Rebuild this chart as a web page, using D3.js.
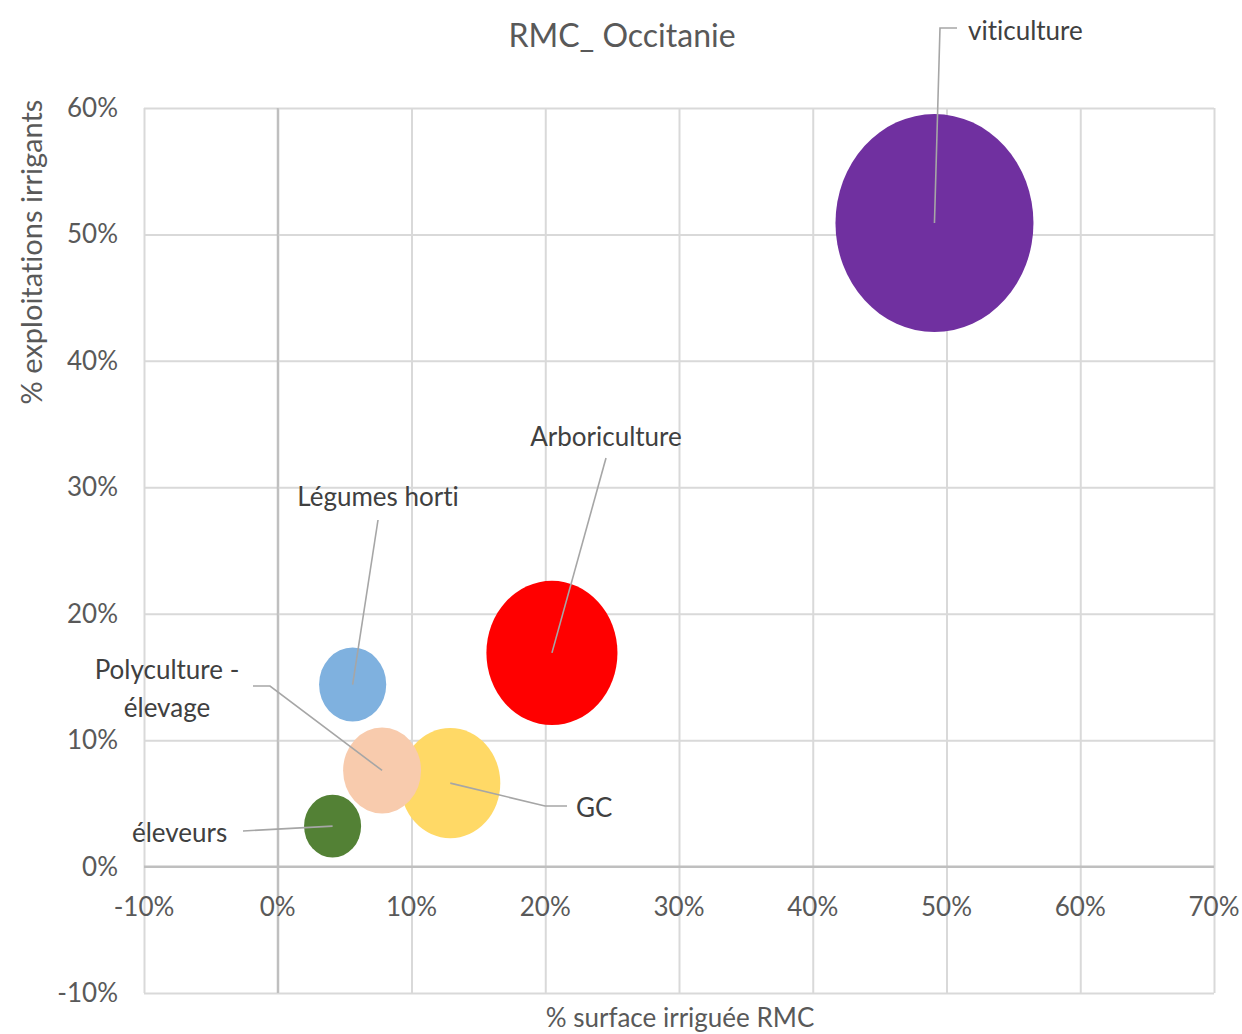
<!DOCTYPE html>
<html>
<head>
<meta charset="utf-8">
<script src="https://cdn.jsdelivr.net/npm/d3@7"></script>
<style>
  body { margin: 0; background: #fff; }
  svg { font-family: Lato, "Open Sans", sans-serif; font-variant-ligatures: none; }
</style>
</head>
<body>
<div id="chart"></div>
<script>
// values (fractions)
const categories = ['GC', 'Polyculture - élevage', 'viticulture', 'Arboriculture', 'Légumes horti', 'éleveurs'];
const surfaceIrriguee = [0.129, 0.078, 0.491, 0.205, 0.056, 0.041];
const exploitationsIrrigants = [0.066, 0.076, 0.509, 0.169, 0.144, 0.032];
const bubbleSize = [25.5, 15.5, 100, 43.8, 11.5, 8.3];
const colors = ['#ffd966', '#f8cbad', '#7030a0', '#ff0000', '#7fb1df', '#538135'];

const xTicks = [-0.1, 0, 0.1, 0.2, 0.3, 0.4, 0.5, 0.6, 0.7];
const yTicks = [-0.1, 0, 0.1, 0.2, 0.3, 0.4, 0.5, 0.6];

// label placement (pixels), leader goes from these points to the bubble centre
const labelLayout = {
    'GC': { lines: ['GC'], x: 576, y: 817, anchor: 'start', leader: [[567, 806], [545, 806]] },
    'Polyculture - élevage': { lines: ['Polyculture -', 'élevage'], x: 167, y: 679, anchor: 'middle', leader: [[253, 686], [270, 686]] },
    'viticulture': { lines: ['viticulture'], x: 968, y: 40, anchor: 'start', leader: [[957, 28], [940, 28]] },
    'Arboriculture': { lines: ['Arboriculture'], x: 606, y: 446, anchor: 'middle', leader: [[606, 458]] },
    'Légumes horti': { lines: ['Légumes horti'], x: 378, y: 506, anchor: 'middle', leader: [[378, 520]] },
    'éleveurs': { lines: ['éleveurs'], x: 132, y: 842, anchor: 'start', leader: [[243, 831]] },
};

const bubbles = categories.map((name, i) => ({
    name,
    x: surfaceIrriguee[i],
    y: exploitationsIrrigants[i],
    size: bubbleSize[i],
    color: colors[i],
}));

const width = 1242;
const height = 1034;
const plot = { left: 144, right: 1214, top: 108, bottom: 993 };

const svg = d3.select('#chart').append('svg').attr('width', width).attr('height', height);

const xScale = d3.scaleLinear().domain([-0.1, 0.7]).range([plot.left, plot.right]);
const yScale = d3.scaleLinear().domain([-0.1, 0.6]).range([plot.bottom, plot.top]);
// the picture is stretched a bit vertically, so bubbles are ellipses
const rxScale = d3.scaleSqrt().domain([0, 100]).range([0, 99]);
const ryScale = d3.scaleSqrt().domain([0, 100]).range([0, 109]);
const pct = (d) => Math.round(d * 100) + '%';

// gridlines
const grid = svg.append('g').attr('class', 'grid');
grid.append('g')
    .attr('transform', `translate(0, ${plot.bottom})`)
    .call(d3.axisBottom(xScale).tickValues(xTicks).tickFormat('').tickSize(-(plot.bottom - plot.top)))
    .call(g => g.select('.domain').remove())
    .selectAll('line').attr('stroke', (d) => d === 0 ? '#bfbfbf' : '#d9d9d9').attr('stroke-width', 2);
grid.append('g')
    .attr('transform', `translate(${plot.left}, 0)`)
    .call(d3.axisLeft(yScale).tickValues(yTicks).tickFormat('').tickSize(-(plot.right - plot.left)))
    .call(g => g.select('.domain').remove())
    .selectAll('line').attr('stroke', (d) => d === 0 ? '#bfbfbf' : '#d9d9d9').attr('stroke-width', 2);
// redraw the zero lines on top of the others
grid.append('line').attr('x1', xScale(0)).attr('x2', xScale(0)).attr('y1', plot.top).attr('y2', plot.bottom)
    .attr('stroke', '#bfbfbf').attr('stroke-width', 2);
grid.append('line').attr('x1', plot.left).attr('x2', plot.right).attr('y1', yScale(0)).attr('y2', yScale(0))
    .attr('stroke', '#bfbfbf').attr('stroke-width', 2);

// tick labels
svg.append('g').selectAll('text').data(xTicks).join('text')
    .attr('x', (d) => xScale(d)).attr('y', 916)
    .attr('text-anchor', 'middle').attr('font-size', 26).attr('fill', '#595959')
    .text(pct);
svg.append('g').selectAll('text').data(yTicks).join('text')
    .attr('x', 118).attr('y', (d) => yScale(d) + 9)
    .attr('text-anchor', 'end').attr('font-size', 26).attr('fill', '#595959')
    .text(pct);

// bubbles
svg.append('g').attr('class', 'bubbles').selectAll('ellipse').data(bubbles).join('ellipse')
    .attr('cx', (d) => xScale(d.x))
    .attr('cy', (d) => yScale(d.y))
    .attr('rx', (d) => rxScale(d.size))
    .attr('ry', (d) => ryScale(d.size))
    .attr('fill', (d) => d.color);

// leader lines and labels
const labels = svg.append('g').attr('class', 'labels');
bubbles.forEach((d) => {
    const lay = labelLayout[d.name];
    const pts = lay.leader.concat([[xScale(d.x), yScale(d.y)]]);
    labels.append('path')
        .attr('d', d3.line()(pts))
        .attr('fill', 'none').attr('stroke', '#a6a6a6').attr('stroke-width', 1.6);
    lay.lines.forEach((line, j) => {
        labels.append('text')
            .attr('x', lay.x).attr('y', lay.y + j * 38)
            .attr('text-anchor', lay.anchor)
            .attr('font-size', 26).attr('fill', '#404040')
            .text(line);
    });
});

// titles
svg.append('text').attr('x', 622).attr('y', 47).attr('text-anchor', 'middle')
    .attr('font-size', 32).attr('fill', '#595959').text('RMC_ Occitanie');
svg.append('text').attr('x', 680).attr('y', 1027).attr('text-anchor', 'middle')
    .attr('font-size', 26).attr('fill', '#595959').text('% surface irriguée RMC');
svg.append('text').attr('transform', 'translate(42, 252) rotate(-90)').attr('text-anchor', 'middle')
    .attr('font-size', 29).attr('fill', '#595959').text('% exploitations irrigants');
</script>
</body>
</html>
